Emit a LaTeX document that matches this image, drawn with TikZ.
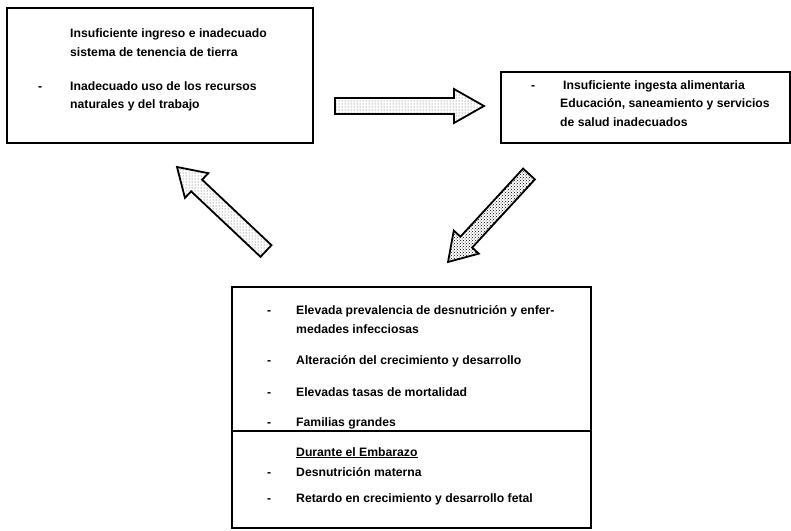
\documentclass[tikz,border=0pt]{standalone}
\usepackage{fontspec}
\setmainfont{Liberation Sans}
\usetikzlibrary{calc,patterns}
% block arrow from a tail coordinate to a tip coordinate
\newcommand{\pBlockArrow}[4]{%
  \coordinate (#1-base) at ($(#2)!#4!(#1)$);
  \draw[blockarrow, #3] ($(#1)!8pt!90:(#2)$) -- ($(#1-base)!8pt!-90:(#1)$) -- ($(#1-base)!17pt!-90:(#1)$) -- (#2) -- ($(#1-base)!17pt!90:(#1)$) -- ($(#1-base)!8pt!90:(#1)$) -- ($(#1)!8pt!-90:(#2)$) -- cycle;}

\tikzset{
  panel/.style={draw, line width=1.5pt, inner sep=0pt},
  item/.style={anchor=base west, inner sep=0pt, font=\fontsize{12.2}{15}\selectfont\bfseries},
  bulletdash/.style={item},
  blockarrow/.style={line width=1.8pt, line join=miter}
}

\begin{document}
\begin{tikzpicture}[x=1pt,y=-1pt]
\useasboundingbox (0,0) rectangle (791,530);

% the three boxes
\node[panel, minimum width=306, minimum height=135] (causes) at (160,75.5) {};
\node[panel, minimum width=289, minimum height=71] (intake) at (645.5,107.5) {};
\node[panel, minimum width=359, minimum height=241] (effects) at (411.5,407.5) {};
\coordinate (divider) at (0,431);
\draw[line width=1.5pt] (effects.west |- divider) -- (effects.east |- divider);

% upper left box
\node[item] (c1a) at (70,37) {Insuficiente ingreso e inadecuado};
\node[item] (c1b) at (70,56) {sistema de tenencia de tierra};
\node[bulletdash] (c2d) at (38,90) {-};
\node[item] (c2a) at (70,90) {Inadecuado uso de los recursos};
\node[item] (c2b) at (70,108) {naturales y del trabajo};

% right box
\node[bulletdash] (i1d) at (531,89) {-};
\node[item] (i1a) at (563,89) {Insuficiente ingesta alimentaria};
\node[item] (i2a) at (560,107) {Educación, saneamiento y servicios};
\node[item] (i2b) at (560,126) {de salud inadecuados};

% bottom box
\node[bulletdash] (e1d) at (267,314) {-};
\node[item] (e1a) at (296,314) {Elevada prevalencia de desnutrición y enfer-};
\node[item] (e1b) at (296,333) {medades infecciosas};
\node[bulletdash] (e2d) at (267,364) {-};
\node[item] (e2a) at (296,364) {Alteración del crecimiento y desarrollo};
\node[bulletdash] (e3d) at (267,396) {-};
\node[item] (e3a) at (296,396) {Elevadas tasas de mortalidad};
\node[bulletdash] (e4d) at (267,426) {-};
\node[item] (e4a) at (296,426) {Familias grandes};
\node[item] (e5h) at (296,456) {\underline{Durante el Embarazo}};
\node[bulletdash] (e6d) at (267,476) {-};
\node[item] (e6a) at (296,476) {Desnutrición materna};
\node[bulletdash] (e7d) at (267,502) {-};
\node[item] (e7a) at (296,502) {Retardo en crecimiento y desarrollo fetal};

% block arrows
\coordinate (toIntakeTail) at (335,106);
\coordinate (toIntakeTip) at (484,106);
\coordinate (toEffectsTail) at (529,174);
\coordinate (toEffectsTip) at (448,262);
\coordinate (toCausesTail) at (266,251);
\coordinate (toCausesTip) at (177,167);
\pBlockArrow{toIntakeTail}{toIntakeTip}{pattern=dots, pattern color=black!70}{30pt}
\pBlockArrow{toEffectsTail}{toEffectsTip}{pattern=crosshatch dots}{27pt}
\pBlockArrow{toCausesTail}{toCausesTip}{pattern=dots, pattern color=black!70}{27pt}
\end{tikzpicture}
\end{document}
